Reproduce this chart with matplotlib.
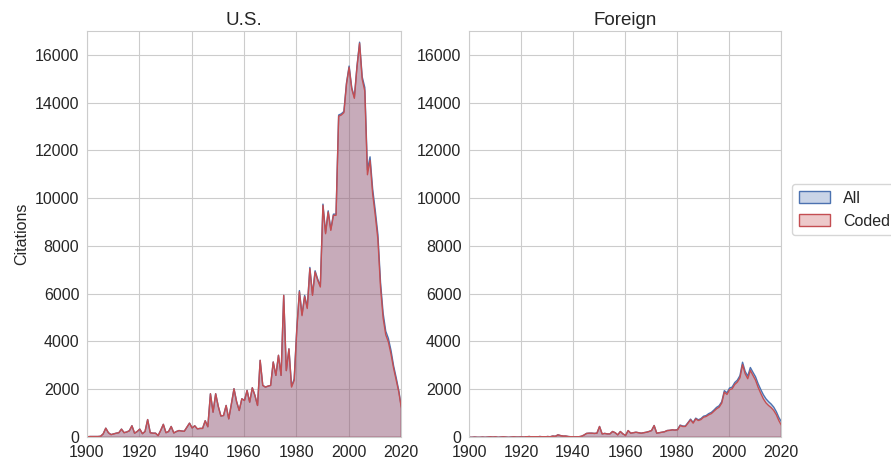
import numpy as np
import seaborn as sns
import matplotlib
matplotlib.use('Agg')
import matplotlib.pyplot as plt

#####################
# Citations per year
#####################
years = np.arange(1900, 2021)

us_coded = [
    30, 40, 40, 40, 40, 50, 150, 390, 200, 120,            # 1900s
    150, 180, 200, 350, 200, 230, 280, 490, 180, 250,      # 1910s
    350, 160, 250, 750, 200, 180, 180, 80, 300, 550,       # 1920s
    200, 250, 460, 190, 250, 290, 270, 260, 430, 600,      # 1930s
    400, 490, 360, 380, 380, 700, 450, 1830, 1060, 1830,   # 1940s
    1300, 900, 920, 1340, 780, 1400, 2040, 1500, 1130, 1620,   # 1950s
    1550, 1970, 1480, 2080, 1760, 1340, 3230, 2180, 2110, 2150,  # 1960s
    2180, 3160, 2600, 3440, 2600, 5950, 2800, 3710, 2110, 2390,  # 1970s
    4500, 6100, 5100, 5900, 5400, 7070, 5950, 6930, 6580, 6300,  # 1980s
    9720, 8530, 9440, 8670, 9300, 9300, 13450, 13500, 13600, 14800,  # 1990s
    15500, 14600, 14200, 15500, 16500, 15000, 14500, 11000, 11600, 10200,  # 2000s
    9300, 8300, 6300, 5000, 4300, 4000, 3500, 2900, 2400, 1900,  # 2010s
    1200,
]
us_all = [
    30, 40, 40, 40, 40, 50, 150, 390, 200, 120,
    150, 180, 200, 350, 200, 230, 280, 490, 180, 250,
    350, 160, 250, 750, 200, 180, 180, 80, 300, 550,
    200, 250, 460, 190, 250, 290, 270, 260, 430, 600,
    400, 490, 360, 380, 380, 700, 450, 1830, 1060, 1830,
    1300, 900, 920, 1340, 780, 1400, 2040, 1500, 1130, 1620,
    1550, 1970, 1480, 2080, 1760, 1340, 3230, 2180, 2110, 2150,
    2180, 3160, 2600, 3440, 2600, 5950, 2800, 3710, 2150, 2450,
    4550, 6150, 5150, 5950, 5450, 7120, 6000, 6980, 6630, 6350,
    9770, 8580, 9490, 8720, 9350, 9350, 13500, 13550, 13650, 14850,
    15550, 14650, 14250, 15550, 16550, 15100, 14650, 11200, 11750, 10400,
    9500, 8500, 6500, 5200, 4450, 4150, 3650, 3000, 2500, 1950,
    1250,
]

foreign_coded = [
    0, 0, 10, 0, 0, 10, 0, 10, 20, 10,
    20, 0, 10, 20, 10, 0, 10, 20, 10, 10,
    20, 10, 30, 40, 20, 30, 20, 40, 30, 20,
    40, 30, 60, 50, 110, 80, 60, 60, 40, 30,
    20, 20, 30, 50, 100, 170, 180, 180, 170, 180,
    460, 150, 170, 150, 150, 250, 200, 110, 250, 150,
    85, 290, 180, 200, 220, 200, 180, 200, 220, 250,
    290, 500, 180, 200, 220, 240, 290, 300, 320, 310,
    320, 500, 460, 460, 600, 740, 600, 780, 710, 750,
    850, 880, 950, 1000, 1100, 1200, 1270, 1440, 1900, 1800,
    2000, 2040, 2220, 2320, 2500, 3050, 2670, 2460, 2810, 2600,
    2400, 2100, 1850, 1620, 1450, 1340, 1250, 1130, 950, 700,
    500,
]
foreign_all = [
    0, 0, 10, 0, 0, 10, 0, 10, 20, 10,
    20, 0, 10, 20, 10, 0, 10, 20, 10, 10,
    20, 10, 30, 40, 20, 30, 20, 40, 30, 20,
    40, 30, 60, 50, 110, 80, 60, 60, 40, 30,
    20, 20, 30, 50, 100, 170, 180, 180, 170, 180,
    460, 150, 170, 150, 150, 250, 200, 110, 250, 150,
    85, 290, 180, 200, 220, 200, 180, 200, 220, 250,
    290, 500, 180, 200, 220, 240, 290, 300, 320, 310,
    330, 520, 480, 480, 620, 770, 630, 810, 740, 790,
    890, 920, 1000, 1050, 1150, 1260, 1330, 1500, 1960, 1870,
    2070, 2110, 2300, 2400, 2590, 3150, 2770, 2570, 2930, 2730,
    2540, 2250, 2010, 1790, 1620, 1500, 1400, 1270, 1080, 830,
    650,
]

#######
# Plot
#######
sns.set_style('whitegrid')
plt.rcParams['font.family'] = ['Liberation Sans', 'DejaVu Sans']

blue = '#4c72b0'
red = '#c44e52'

fig = plt.figure(figsize=(8.91, 4.63), dpi=100)
ax1 = fig.add_axes([0.0976, 0.0562, 0.3524, 0.877])
ax2 = fig.add_axes([0.5264, 0.0562, 0.3502, 0.877])

panels = [(ax1, 'U.S.', us_all, us_coded), (ax2, 'Foreign', foreign_all, foreign_coded)]
for ax, title, all_vals, coded_vals in panels:
    ax.fill_between(years, all_vals, facecolor=(0.298, 0.447, 0.690, 0.3),
                    edgecolor=blue, linewidth=1.0, label='All')
    ax.fill_between(years, coded_vals, facecolor=(0.769, 0.306, 0.322, 0.3),
                    edgecolor=red, linewidth=1.0, label='Coded')
    ax.set_xlim(1900, 2020)
    ax.set_ylim(0, 17000)
    ax.set_xticks(np.arange(1900, 2021, 20))
    ax.set_yticks(np.arange(0, 16001, 2000))
    ax.tick_params(labelsize=11.5, pad=2, colors='#262626')
    ax.set_title(title, fontsize=13.5, pad=4, color='#262626')

ax1.set_ylabel('Citations', fontsize=11.5, color='#262626')
ax2.legend(loc='center left', bbox_to_anchor=(1.01, 0.56), fontsize=11.5,
           frameon=True, handlelength=2.0)

plt.savefig('out.png', dpi=100)
